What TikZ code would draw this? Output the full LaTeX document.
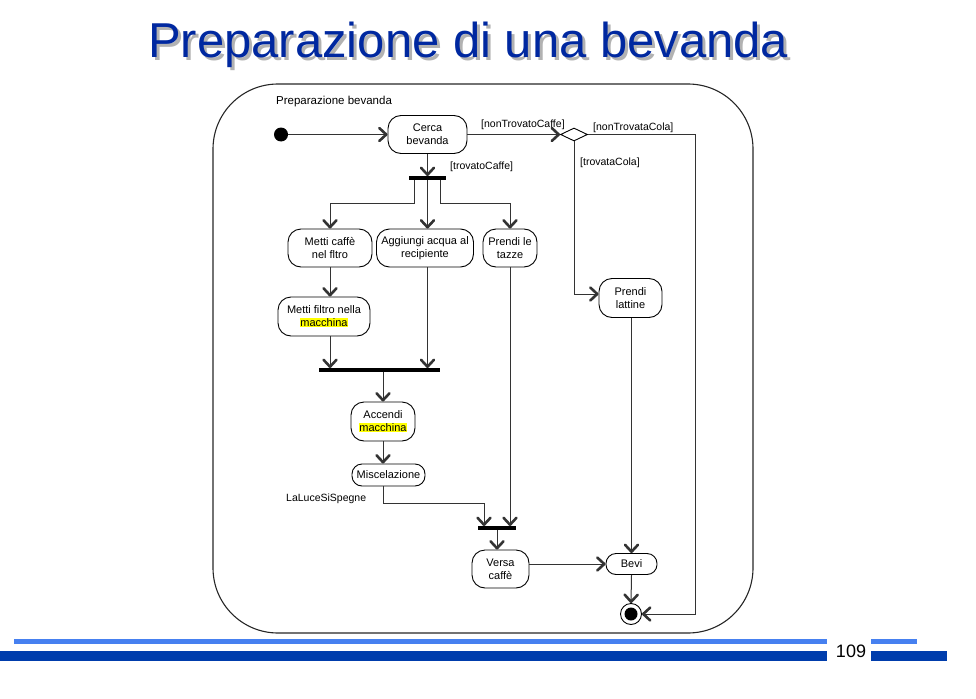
\documentclass[tikz,border=0pt]{standalone}
\usepackage{fontspec}
\setmainfont{Liberation Sans}
\usetikzlibrary{arrows.meta,shapes.geometric,calc}
\definecolor{titleblue}{RGB}{0,40,160}
\definecolor{lightbar}{RGB}{70,128,240}
\definecolor{darkbar}{RGB}{0,61,172}
\definecolor{hl}{RGB}{255,255,0}
\tikzset{
  act/.style={draw=black, line width=0.9pt, fill=white, align=center, inner sep=0pt,
    font=\fontsize{11}{13}\selectfont, rounded corners=13pt},
  actsmall/.style={act, rounded corners=10pt},
  lbl/.style={anchor=base west, inner sep=0pt, font=\fontsize{10.5}{12.5}\selectfont},
  bar/.style={fill=black, inner sep=0pt, minimum height=3.5pt},
  arr/.style={draw=black!80, line width=1pt, -{Straight Barb[length=7pt,width=13pt,line width=2.6pt,round]}},
}
\newcommand{\hlt}[1]{\setlength{\fboxsep}{0.5pt}\colorbox{hl}{#1}}
\begin{document}
\begin{tikzpicture}[x=1pt,y=-1pt]
\useasboundingbox (0,0) rectangle (976,698);
% title
\node[anchor=base west, inner sep=0pt, font=\fontsize{49}{55}\selectfont, text=black!30] (shadow) at (151,61) {Preparazione di una bevanda};
\node[anchor=base west, inner sep=0pt, font=\fontsize{49}{55}\selectfont, text=titleblue] (title) at (148,58) {Preparazione di una bevanda};
% frame
\node[draw=black!85, line width=1.1pt, rounded corners=65pt, minimum width=540pt, minimum height=549pt, inner sep=0pt] (frame) at (483,358.5) {};
\node[anchor=base west, inner sep=0pt, font=\fontsize{11.5}{13}\selectfont] (ftitle) at (276,105) {Preparazione bevanda};
% nodes
\node[circle, fill=black, minimum size=14pt, inner sep=0pt] (init) at (281,134.5) {};
\node[act, minimum width=79pt, minimum height=38pt] (cerca) at (427.5,134.5) {Cerca\\bevanda};
\node[draw=black, line width=0.9pt, fill=white, diamond, aspect=2, minimum width=27pt, minimum height=13pt, inner sep=0pt] (dec) at (574,134.5) {};
\node[bar, minimum width=37pt] (f1) at (427.5,178) {};
\node[act, minimum width=84pt, minimum height=38pt] (mcaffe) at (330,248) {Metti caffè\\nel fltro};
\node[act, minimum width=97pt, minimum height=38pt] (aggiungi) at (425,248) {Aggiungi acqua al\\recipiente};
\node[act, minimum width=54pt, minimum height=38pt] (tazze) at (510,248) {Prendi le\\tazze};
\node[act, minimum width=63pt, minimum height=39pt] (lattine) at (630.5,298) {Prendi\\lattine};
\node[act, minimum width=92pt, minimum height=39pt] (mfiltro) at (324,316.5) {Metti filtro nella\\\hlt{macchina}};
\node[bar, minimum width=121pt] (f2) at (379.5,370) {};
\node[act, minimum width=64pt, minimum height=39pt] (accendi) at (383,421.5) {Accendi\\\hlt{macchina}};
\node[actsmall, minimum width=73pt, minimum height=22pt] (misc) at (388.5,475) {Miscelazione};
\node[bar, minimum width=38pt] (f3) at (497,528) {};
\node[act, minimum width=57pt, minimum height=38pt] (versa) at (500.5,569) {Versa\\caffè};
\node[actsmall, minimum width=51pt, minimum height=21pt] (bevi) at (631.5,564) {Bevi};
\node[circle, draw=black, line width=0.9pt, fill=white, minimum size=21pt, inner sep=0pt] (fin) at (631,614) {};
\fill (fin.center) circle (6.5);
% labels
\node[lbl] (l1) at (481,128) {[nonTrovatoCaffe]};
\node[lbl] (l2) at (593,131) {[nonTrovataCola]};
\node[lbl] (l3) at (580,165) {[trovataCola]};
\node[lbl] (l4) at (450,169) {[trovatoCaffe]};
\node[lbl] (l5) at (286,501) {LaLuceSiSpegne};
% coordinates
\coordinate (rr) at (695,0);
\coordinate (k1) at (484,503);
% connectors
\draw[arr] (init.east) -- (cerca.west);
\draw[arr] (cerca.east) -- (dec.west);
\draw[arr] (dec.east) -- (dec.east -| rr) -- (rr |- fin.east) -- (fin.east);
\draw[arr] (dec.south) |- ([yshift=4pt]lattine.west);
\draw[arr] (cerca.south) -- (f1.north);
\draw[arr] ([xshift=-13pt]f1.south) -- ++(0,23.5) -| (mcaffe.north);
\draw[arr] (f1.south) -- (f1.south |- aggiungi.north);
\draw[arr] ([xshift=13pt]f1.south) -- ++(0,23.5) -| (tazze.north);
\draw[arr] (mcaffe.south) -- (mcaffe.south |- mfiltro.north);
\draw[arr] (mcaffe.south |- mfiltro.south) -- (mcaffe.south |- f2.north);
\draw[arr] (f1.south |- aggiungi.south) -- (f1.south |- f2.north);
\draw[arr] (f2.south -| accendi.north) -- (accendi.north);
\draw[arr] (accendi.south) -- (accendi.south |- misc.north);
\draw[arr] (accendi.south |- misc.south) |- (k1) -- (k1 |- f3.north);
\draw[arr] (tazze.south) -- (tazze.south |- f3.north);
\draw[arr] (f3.south) -- (f3.south |- versa.north);
\draw[arr] (versa.east |- bevi.west) -- (bevi.west);
\draw[arr] (lattine.south -| bevi.north) -- (bevi.north);
\draw[arr] (bevi.south) -- (fin.north);
% footer
\fill[lightbar] (14,639) rectangle (827,644);
\fill[lightbar] (871,639) rectangle (917,644);
\fill[darkbar] (0,651) rectangle (827,661);
\fill[darkbar] (871,651) rectangle (947,661);
\node[inner sep=0pt, font=\fontsize{18}{20}\selectfont] (page) at (851,651) {109};
\end{tikzpicture}
\end{document}
